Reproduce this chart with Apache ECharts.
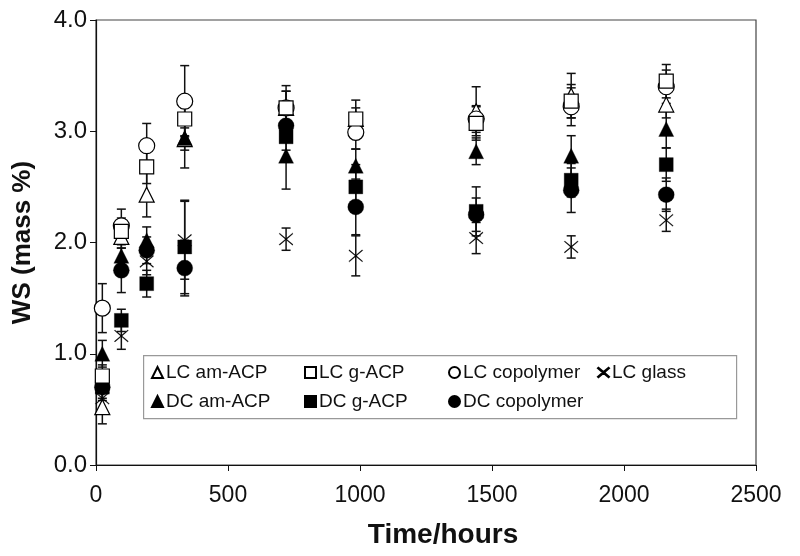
<!DOCTYPE html>
<html>
<head>
<meta charset="utf-8">
<script src="https://cdn.jsdelivr.net/npm/echarts@6/dist/echarts.min.js"></script>
<style>html,body{margin:0;padding:0;background:#fff}#c{width:800px;height:556px}</style>
</head>
<body>
<div id="c"></div>
<script>
const times = [24, 96, 192, 336, 720, 984, 1440, 1800, 2160];
const xTicks = [0, 500, 1000, 1500, 2000, 2500];
const yTicks = [0, 1, 2, 3, 4];

const lcAmAcp = [0.52, 2.05, 2.43, 2.93, 3.21, 3.11, 3.18, 3.32, 3.24];
const lcAmAcpErr = [0.15, 0.10, 0.20, 0.10, 0.15, 0.10, 0.22, 0.20, 0.12];
const lcGAcp = [0.80, 2.10, 2.68, 3.11, 3.21, 3.11, 3.07, 3.27, 3.45];
const lcGAcpErr = [0.10, 0.12, 0.15, 0.15, 0.20, 0.17, 0.15, 0.15, 0.15];
const lcCopolymer = [1.41, 2.15, 2.87, 3.27, 3.21, 2.99, 3.11, 3.22, 3.40];
const lcCopolymerErr = [0.22, 0.15, 0.20, 0.32, 0.15, 0.15, 0.12, 0.17, 0.15];
const lcGlass = [0.60, 1.16, 1.83, 2.02, 2.03, 1.88, 2.04, 1.96, 2.20];
const lcGlassErr = [0.12, 0.12, 0.12, 0.35, 0.10, 0.18, 0.14, 0.10, 0.10];
const dcAmAcp = [1.00, 1.88, 2.02, 2.94, 2.78, 2.69, 2.82, 2.78, 3.02];
const dcAmAcpErr = [0.12, 0.12, 0.12, 0.27, 0.30, 0.15, 0.12, 0.18, 0.17];
const dcGAcp = [0.70, 1.30, 1.63, 1.96, 2.95, 2.50, 2.28, 2.56, 2.70];
const dcGAcpErr = [0.10, 0.10, 0.12, 0.42, 0.12, 0.20, 0.22, 0.15, 0.15];
const dcCopolymer = [0.70, 1.75, 1.93, 1.77, 3.05, 2.32, 2.25, 2.47, 2.43];
const dcCopolymerErr = [0.12, 0.20, 0.12, 0.25, 0.10, 0.25, 0.15, 0.20, 0.15];

const X_PATH = 'path://M0,0.6 L0.6,0 L7,5.4 L13.4,0 L14,0.6 L7.7,6 L14,11.4 L13.4,12 L7,6.6 L0.6,12 L0,11.4 L6.3,6 Z';
const FONT = 'Liberation Sans, Arial, Helvetica, sans-serif';

const defs = [
  {name: 'LC am-ACP', vals: lcAmAcp, err: lcAmAcpErr, symbol: 'triangle', open: true, size: 15, z: 3},
  {name: 'LC g-ACP', vals: lcGAcp, err: lcGAcpErr, symbol: 'rect', open: true, size: 14, z: 5},
  {name: 'LC copolymer', vals: lcCopolymer, err: lcCopolymerErr, symbol: 'circle', open: true, size: 16, z: 4},
  {name: 'LC glass', vals: lcGlass, err: lcGlassErr, symbol: X_PATH, open: false, size: [14, 12], z: 3},
  {name: 'DC am-ACP', vals: dcAmAcp, err: dcAmAcpErr, symbol: 'triangle', open: false, size: 15, z: 3},
  {name: 'DC g-ACP', vals: dcGAcp, err: dcGAcpErr, symbol: 'rect', open: false, size: 14, z: 4},
  {name: 'DC copolymer', vals: dcCopolymer, err: dcCopolymerErr, symbol: 'circle', open: false, size: 16, z: 3}
];

const series = [];
defs.forEach(d => {
  series.push({
    type: 'custom',
    name: d.name + ' err',
    data: times.map((t, i) => [t, d.vals[i] - d.err[i], d.vals[i] + d.err[i]]),
    z: 1,
    silent: true,
    renderItem: function (params, api) {
      const x = api.value(0);
      const lo = api.coord([x, api.value(1)]);
      const hi = api.coord([x, api.value(2)]);
      const cw = 4.5;
      const st = {stroke: '#111', lineWidth: 1.5};
      return {
        type: 'group',
        children: [
          {type: 'line', shape: {x1: lo[0], y1: lo[1], x2: hi[0], y2: hi[1]}, style: st},
          {type: 'line', shape: {x1: lo[0] - cw, y1: lo[1], x2: lo[0] + cw, y2: lo[1]}, style: st},
          {type: 'line', shape: {x1: hi[0] - cw, y1: hi[1], x2: hi[0] + cw, y2: hi[1]}, style: st}
        ]
      };
    }
  });
  series.push({
    type: 'scatter',
    name: d.name,
    data: times.map((t, i) => [t, d.vals[i]]),
    symbol: d.symbol,
    symbolSize: d.size,
    z: d.z,
    itemStyle: d.open
      ? {color: '#fff', borderColor: '#000', borderWidth: 1.2, opacity: 1}
      : {color: '#000', borderColor: '#000', borderWidth: 0.3, opacity: 1}
  });
});

const legPos = [
  [151, 363], [304, 363], [448, 363], [597, 363],
  [151, 392], [304, 392], [448, 392]
];
const legends = defs.map((d, i) => ({
  data: [d.name],
  left: legPos[i][0],
  top: legPos[i][1],
  itemWidth: 11,
  itemHeight: 11,
  itemGap: 0,
  padding: 0,
  selectedMode: false,
  textStyle: {fontSize: 19, color: '#111', fontFamily: FONT, padding: [0, 0, 0, -2]}
}));

const chart = echarts.init(document.getElementById('c'), null, {renderer: 'canvas'});
chart.setOption({
  animation: false,
  backgroundColor: '#fff',
  grid: {left: 96, right: 44, top: 20, bottom: 91, containLabel: false, outerBoundsMode: 'none',
         show: true, borderColor: '#444', borderWidth: 1.2},
  xAxis: {
    type: 'value', min: xTicks[0], max: xTicks[xTicks.length - 1], interval: 500,
    name: 'Time/hours', nameLocation: 'middle', nameGap: 56,
    nameTextStyle: {fontSize: 28, fontWeight: 'bold', color: '#111', fontFamily: FONT, padding: [0, 0, 0, 34]},
    axisLine: {lineStyle: {color: '#111', width: 1.2}},
    axisTick: {show: true, length: 6, lineStyle: {color: '#111'}},
    axisLabel: {fontSize: 23, color: '#111', margin: 19, fontFamily: FONT, formatter: v => String(v)},
    splitLine: {show: false}
  },
  yAxis: {
    type: 'value', min: yTicks[0], max: yTicks[yTicks.length - 1], interval: 1,
    name: 'WS (mass %)', nameLocation: 'middle', nameGap: 60,
    nameTextStyle: {fontSize: 26, fontWeight: 'bold', color: '#111', fontFamily: FONT},
    axisLine: {show: true, lineStyle: {color: '#111', width: 1.2}},
    axisTick: {show: true, length: 6, lineStyle: {color: '#111'}},
    axisLabel: {fontSize: 24, color: '#111', margin: 9, formatter: v => v.toFixed(1), fontFamily: FONT},
    splitLine: {show: false}
  },
  legend: legends,
  graphic: [{
    type: 'rect', left: 143, top: 355, z: 0,
    shape: {width: 593, height: 63},
    style: {fill: '#fff', stroke: '#999', lineWidth: 1.2}
  }],
  series: series
});
</script>
</body>
</html>
